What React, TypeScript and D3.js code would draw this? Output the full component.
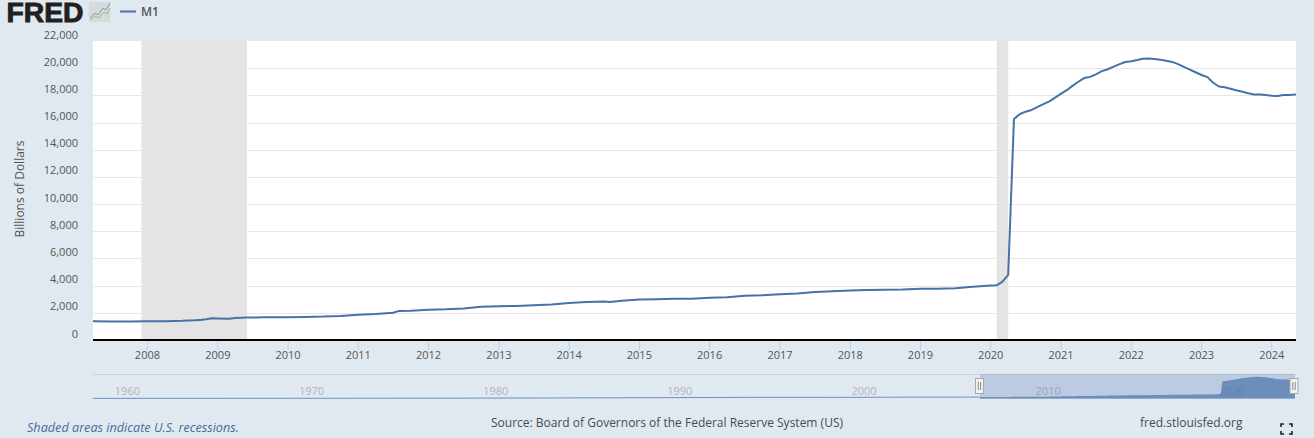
import React from "react";
import * as d3 from "d3";

const W = 1314, H = 438;
const FONT = "'Open Sans', sans-serif";

// monthly / sparse M1 readings, billions of dollars
const dates = [
  "2007-03","2007-07","2007-10","2008-01","2008-04","2008-07","2008-09","2008-10","2008-11","2008-12",
  "2009-01","2009-03","2009-04","2009-06","2009-09","2010-01","2010-04","2010-07","2010-10",
  "2011-01","2011-04","2011-07","2011-08","2011-10","2012-01","2012-04","2012-07","2012-10",
  "2013-01","2013-04","2013-07","2013-10","2014-01","2014-04","2014-07","2014-08","2014-10",
  "2015-01","2015-04","2015-07","2015-10","2016-01","2016-04","2016-07","2016-10",
  "2017-01","2017-04","2017-07","2017-10","2018-01","2018-04","2018-07","2018-10",
  "2019-01","2019-04","2019-07","2019-10","2020-01","2020-02","2020-03","2020-04",
  "2020-05","2020-06","2020-07","2020-08","2020-09","2020-10","2020-11","2020-12",
  "2021-01","2021-02","2021-03","2021-04","2021-05","2021-06","2021-07","2021-08","2021-09","2021-10","2021-11","2021-12",
  "2022-01","2022-02","2022-03","2022-04","2022-05","2022-06","2022-07","2022-08","2022-09","2022-10","2022-11","2022-12",
  "2023-01","2023-02","2023-03","2023-04","2023-05","2023-06","2023-07","2023-08","2023-09","2023-10","2023-11","2023-12",
  "2024-01","2024-02","2024-03","2024-04","2024-05","2024-06",
];
const m1 = [
  1385,1370,1370,1380,1385,1410,1450,1480,1520,1595,
  1585,1570,1610,1655,1665,1680,1700,1720,1770,
  1860,1910,2010,2140,2160,2230,2260,2320,2440,
  2480,2510,2560,2620,2730,2790,2830,2790,2880,
  2980,3000,3030,3040,3110,3150,3260,3290,
  3370,3420,3530,3580,3640,3680,3700,3720,
  3770,3770,3810,3920,4010,4020,4280,4790,
  16260,16630,16800,16925,17150,17350,17560,17830,
  18130,18400,18700,19000,19270,19360,19550,19780,19920,20120,20300,20450,
  20510,20600,20700,20710,20680,20620,20550,20460,20300,20100,19900,19700,
  19500,19340,18950,18650,18600,18490,18370,18260,18150,18070,18060,18020,
  17970,17950,18020,18030,18060,18080,
];
const recessions = [["2007-12", "2009-06"], ["2020-02", "2020-04"]];
const yTicks = [0,2000,4000,6000,8000,10000,12000,14000,16000,18000,20000,22000];
const xYears = [2008,2009,2010,2011,2012,2013,2014,2015,2016,2017,2018,2019,2020,2021,2022,2023,2024];
const navLabelYears = [1960,1970,1980,1990,2000,2010,2020];
const navEarlyDates = ["1959-01","1965-01","1970-01","1975-01","1980-01","1985-01","1990-01","1995-01","2000-01","2005-01"];
const navEarlyValues = [139,160,206,280,385,570,795,1150,1110,1370];

const parse = d3.timeParse("%Y-%m");
const mainData = dates.map((d, i) => ({ date: parse(d) as Date, value: m1[i] }));
const navData = [
  ...navEarlyDates.map((d, i) => ({ date: parse(d) as Date, value: navEarlyValues[i] })),
  ...mainData,
];

export default function App() {
  const left = 93, right = 1296, top = 41, bottom = 340;
  const x = d3.scaleTime().domain([new Date(2007, 2, 24), new Date(2024, 4, 6)]).range([left, right]);
  const y = d3.scaleLinear().domain([0, 22000]).range([bottom, top]);
  const line = d3.line<{ date: Date; value: number }>().x(d => x(d.date)).y(d => y(d.value));

  const nx = d3.scaleTime().domain([new Date(1959, 0, 1), new Date(2024, 4, 1)]).range([left, right]);
  const ny = d3.scaleLinear().domain([0, 22000]).range([398.5, 375.5]);
  const nline = d3.line<{ date: Date; value: number }>().x(d => nx(d.date)).y(d => ny(d.value));
  const narea = d3.area<{ date: Date; value: number }>().x(d => nx(d.date)).y0(398.5).y1(d => ny(d.value));
  const selL = 980, selR = 1295;

  return (
    <svg width={W} height={H} viewBox={`0 0 ${W} ${H}`}
      style={{ position: "absolute", left: 0, top: 0, display: "block", fontFamily: FONT }}>
      <defs>
        <clipPath id="plot"><rect x={left} y={top} width={right - left} height={bottom - top} /></clipPath>
        <clipPath id="sel"><rect x={selL} y={370} width={selR - selL} height={32} /></clipPath>
        <clipPath id="unsel"><rect x={left} y={370} width={selL - left} height={32} /></clipPath>
      </defs>
      <rect width={W} height={H} fill="#e1e9f0" />

      {/* logo */}
      <text x={6.5} y={21.5} fontFamily="'Liberation Sans', sans-serif" fontWeight={700} fontSize={27.5}
        fill="#231f20" stroke="#231f20" strokeWidth={0.9} textLength={77} lengthAdjust="spacingAndGlyphs">FRED</text>
      <rect x={89} y={2} width={21} height={20} fill="#d3dcd8" />
      <path d="M90,18 L95,13 L98,15 L103,8 L106,10 L110,3" fill="none" stroke="#7f9cc0" strokeWidth={1} />
      <path d="M90,20 L95,16 L99,18 L104,12 L107,14 L110,8" fill="none" stroke="#9fb878" strokeWidth={1} />

      {/* legend */}
      <line x1={120} x2={136} y1={11.5} y2={11.5} stroke="#4572a7" strokeWidth={2} />
      <text x={141} y={16} fontSize={12} fontWeight={600} fill="#555">M1</text>

      {/* plot */}
      <rect x={left} y={top} width={right - left} height={bottom - top} fill="#fff" />
      {yTicks.filter(t => t > 0 && t < 22000).map(t => (
        <line key={t} x1={left} x2={right} y1={Math.round(y(t)) + 0.5} y2={Math.round(y(t)) + 0.5} stroke="#e6e6e6" />
      ))}
      {recessions.map(([a, b]) => {
        const x0 = x(parse(a) as Date), x1 = x(parse(b) as Date);
        return <rect key={a} x={x0} y={top} width={x1 - x0} height={bottom - top} fill="#e4e4e4" />;
      })}
      <path d={line(mainData) ?? ""} fill="none" stroke="#4572a7" strokeWidth={2} strokeLinejoin="round" clipPath="url(#plot)" />
      <line x1={left} x2={right} y1={340} y2={340} stroke="#000" strokeWidth={2} />

      {/* y axis */}
      {yTicks.map(t => (
        <text key={t} x={78} y={y(t) - 2.5} textAnchor="end" fontSize={11} fill="#555">{d3.format(",")(t)}</text>
      ))}
      <text transform="translate(24,189) rotate(-90)" textAnchor="middle" fontSize={12} fill="#555">Billions of Dollars</text>

      {/* x axis */}
      {xYears.map(yr => {
        const px = x(new Date(yr, 0, 1));
        return (
          <g key={yr}>
            <line x1={px} x2={px} y1={341} y2={350} stroke="#c0d0e0" />
            <text x={px} y={359} textAnchor="middle" fontSize={11} fill="#555">{yr}</text>
          </g>
        );
      })}

      {/* navigator */}
      <line x1={left} x2={right} y1={374.5} y2={374.5} stroke="#cdd2d6" />
      {navLabelYears.map(yr => (
        <text key={yr} x={nx(new Date(yr, 0, 1)) + 16} y={395} textAnchor="middle" fontSize={11} fill="#b0b6bb">{yr}</text>
      ))}
      <rect x={selL} y={374} width={selR - selL} height={25} fill="#6685c2" fillOpacity={0.3} />
      <path d={narea(navData) ?? ""} fill="#4572a7" fillOpacity={0.68} clipPath="url(#sel)" />
      <path d={nline(navData) ?? ""} fill="none" stroke="#4572a7" strokeOpacity={0.75} strokeWidth={1} clipPath="url(#unsel)" />
      {[selL - 0.5, selR - 1].map(hx => (
        <g key={hx}>
          <rect x={hx - 4} y={378.5} width={8} height={15} fill="#f2f2f2" stroke="#a9a9a9" />
          <line x1={hx - 1.2} x2={hx - 1.2} y1={382} y2={390} stroke="#888" />
          <line x1={hx + 1.2} x2={hx + 1.2} y1={382} y2={390} stroke="#888" />
        </g>
      ))}

      {/* footer */}
      <text x={27} y={432} fontSize={12.65} fontStyle="italic" fill="#4a6a9c">Shaded areas indicate U.S. recessions.</text>
      <text x={491} y={427} fontSize={12} fill="#444c54">Source: Board of Governors of the Federal Reserve System (US)</text>
      <text x={1140} y={427} fontSize={12} fill="#444c54">fred.stlouisfed.org</text>

      {/* full screen icon */}
      <path d="M1281,427 V424 H1284 M1289,424 H1292 V427 M1292,431 V434 H1289 M1284,434 H1281 V431"
        fill="none" stroke="#222" strokeWidth={1.6} />
    </svg>
  );
}
